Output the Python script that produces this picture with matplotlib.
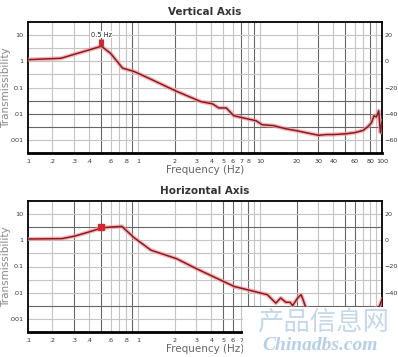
import numpy as np
import matplotlib
matplotlib.use("Agg")
import matplotlib.pyplot as plt
from matplotlib.patches import Rectangle

# ---- data ----
vert_freq = [0.128, 0.234, 0.504, 0.60, 0.75, 0.93, 1.3, 2.07, 3.28, 4.1, 4.6, 5.3, 6.1,
             7.4, 9.3, 10.4, 13, 16, 20.4, 25, 30.3, 35, 40, 50, 60, 70, 76, 82, 86, 90, 94,
             97, 100]
vert_trans = [1.16, 1.3, 3.77, 1.97, 0.55, 0.41, 0.2, 0.072, 0.029, 0.0236, 0.0166,
              0.0166, 0.0084, 0.0068, 0.0054, 0.0038, 0.0035, 0.0027, 0.0022, 0.0018, 0.0015,
              0.0016, 0.0016, 0.0017, 0.0019, 0.0023, 0.0031, 0.0045, 0.0084, 0.0075, 0.013,
              0.0019, 0.005]

horz_freq = [0.128, 0.24, 0.305, 0.40, 0.51, 0.60, 0.74, 0.93, 1.28, 2.07, 3.08, 6.15, 11.5,
             13.5, 14.8, 16.3, 17.7, 18.5, 20.4, 21.7, 22.4, 23.8, 30, 50, 80, 95, 100]
horz_trans = [1.12, 1.16, 1.45, 2.1, 3.0, 3.2, 3.4, 1.27, 0.42, 0.2, 0.079, 0.0173, 0.0084,
              0.004, 0.0063, 0.0043, 0.0043, 0.0032, 0.0063, 0.0084, 0.0060, 0.0026, 0.002,
              0.0015, 0.002, 0.003, 0.0055]

vert_marker = (0.5, 3.8, 7.0)   # freq, bottom, top of the red bar
horz_marker = (0.5, 3.3)

x_ticks = [0.126, 0.2, 0.3, 0.4, 0.6, 0.8, 1, 2, 3, 4, 5, 6, 7, 8, 10, 20, 30, 40, 60, 80, 100]
x_labels = [".1", ".2", ".3", ".4", ".6", ".8", "1", "2", "3", "4", "5", "6", "7", "8", "10",
            "20", "30", "40", "60", "80", "100"]
x_shown_bottom = 13   # the watermark hides the rest of the lower labels
y_ticks = [10, 1, 0.1, 0.01, 0.001]
y_labels = ["10", "1", "0.1", ".01", ".001"]
db_ticks = [20, 0, -20, -40, -60]
db_shown_bottom = 4

grid_x = [0.2, 0.3, 0.4, 0.5, 0.6, 0.7, 0.8, 0.9, 1, 2, 3, 4, 5, 6, 7, 8, 9, 10,
          20, 30, 40, 50, 60, 70, 80, 90]
grid_y = [10 ** (k / 2) for k in range(-6, 3)]

dark_x_top = [0.5, 0.9, 2, 7, 9, 30, 50, 80]
dark_y_top = [10 ** -1.5, 0.01, 10 ** -2.5]
dark_x_bot = [0.3, 0.5, 0.9, 5, 6, 8, 20, 50, 60]
dark_y_bot = [10 ** 0.5, 10 ** -2.5]

fig = plt.figure(figsize=(3.98, 3.57), dpi=100)
ax1 = fig.add_axes([28 / 398, 1 - 153 / 357, 354 / 398, 131 / 357])
ax2 = fig.add_axes([28 / 398, 1 - 332 / 357, 354 / 398, 131 / 357])


def style(ax, title, dark_x, dark_y, n_labels, n_db):
    ax.set_xscale("log")
    ax.set_yscale("log")
    ax.set_xlim(0.126, 100)
    ax.set_ylim(10 ** -3.5, 10 ** 1.5)
    for gx in grid_x:
        c = "#666666" if gx in dark_x else "#c4c4c4"
        ax.axvline(gx, color=c, lw=0.8, zorder=1)
    for gy in grid_y:
        c = "#666666" if gy in dark_y else "#c4c4c4"
        ax.axhline(gy, color=c, lw=0.8, zorder=1)
    ax.set_xticks(x_ticks[:n_labels])
    ax.set_xticklabels(x_labels[:n_labels])
    ax.set_xticks([], minor=True)
    ax.set_yticks(y_ticks)
    ax.set_yticklabels(y_labels)
    ax.set_yticks([], minor=True)
    ax.tick_params(axis="both", length=0, labelsize=4.6, colors="#333333")
    ax.tick_params(axis="x", pad=4)
    ax.tick_params(axis="y", pad=3)
    for s in ax.spines.values():
        s.set_color("black")
        s.set_linewidth(1.3)
    ax.spines["bottom"].set_linewidth(2)
    ax.set_title(title, fontsize=7.5, fontweight="bold", color="#333333", pad=5)
    ax.set_xlabel("Frequency (Hz)", fontsize=7.5, color="#666666", labelpad=1)
    tw = ax.twinx()
    tw.set_ylim(-70, 30)
    tw.set_yticks(db_ticks[:n_db])
    tw.tick_params(axis="y", length=0, labelsize=4.6, colors="#333333", pad=2)
    for s in tw.spines.values():
        s.set_visible(False)
    return tw


style(ax1, "Vertical Axis", dark_x_top, dark_y_top, len(x_ticks), len(db_ticks))
style(ax2, "Horizontal Axis", dark_x_bot, dark_y_bot, x_shown_bottom, db_shown_bottom)

for ax in (ax1, ax2):
    bb = ax.get_position()
    fig.text(6.5 / 398, bb.y0 + bb.height / 2, "Transmissibility", rotation=90, fontsize=7.5,
             color="#888888", ha="center", va="center")

for ax, f, t in [(ax1, vert_freq, vert_trans), (ax2, horz_freq, horz_trans)]:
    ax.plot(f, t, color="#f29a9a", lw=3, alpha=0.7, zorder=3, solid_joinstyle="round")
    ax.plot(f, t, color="#8e1820", lw=1.1, zorder=4)

ax1.plot([vert_marker[0]] * 2, vert_marker[1:], color="#d6262e", lw=3.6,
         solid_capstyle="butt", zorder=5)
ax1.text(vert_marker[0], vert_marker[2] * 1.15, "0.5 Hz", fontsize=4.8, ha="center",
         va="bottom", color="#222222", zorder=6,
         bbox=dict(facecolor="white", edgecolor="none", pad=0.5))
ax2.plot(horz_marker[0], horz_marker[1], marker="s", ms=4, color="#d6262e", zorder=5)

# watermark
fig.patches.append(Rectangle((243 / 398, 0), 155 / 398, 50 / 357, transform=fig.transFigure,
                             facecolor="white", edgecolor="none", zorder=10))
fig.text(323 / 398, 1 - 322 / 357, "产品信息网", fontsize=19, color="#c3d8ec",
         family=["Noto Sans CJK SC", "DejaVu Sans"], ha="center", va="center", zorder=11)
fig.text(320 / 398, 1 - 346 / 357, "Chinadbs.com", fontsize=14, color="#b6cfe8",
         family="Liberation Serif", fontweight="bold", fontstyle="italic",
         ha="center", va="center", zorder=11)

fig.savefig("out.png", dpi=100)
